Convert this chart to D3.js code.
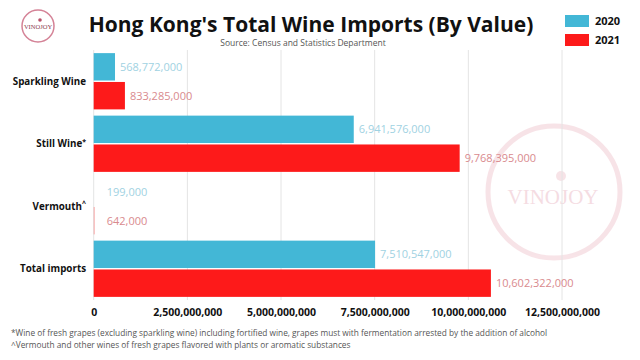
<!DOCTYPE html>
<html><head><meta charset="utf-8">
<script src="https://cdn.jsdelivr.net/npm/d3@7"></script>
<style>body{margin:0;background:#fff}svg{display:block;font-family:'Open Sans',sans-serif}</style>
</head><body><svg id="c" width="640" height="360"></svg>
<script>
const categories = ["Sparkling Wine", "Still Wine", "Vermouth", "Total imports"];
const marks = ["", "*", "^", ""];
const years = ["2020", "2021"];
const values2020 = [568772000, 6941576000, 199000, 7510547000];
const values2021 = [833285000, 9768395000, 642000, 10602322000];
const ticks = [0, 2500000000, 5000000000, 7500000000, 10000000000, 12500000000];
const footnotes = [
  "*Wine of fresh grapes (excluding sparkling wine) including fortified wine, grapes must with fermentation arrested by the addition of alcohol",
  "^Vermouth and other wines of fresh grapes flavored with plants or aromatic substances"
];
const colors = ["#43b7d6", "#fd1a1a"];
const labelColors = ["#9fd2e2", "#d98a8e"];

const svg = d3.select("#c");
const x = d3.scaleLinear().domain([0, 12500000000]).range([93.7, 562]);
const y = d3.scaleBand().domain(categories).range([50, 300]).paddingInner(0.1).paddingOuter(0.05);
const y1 = d3.scaleBand().domain(years).range([0, y.bandwidth()]).paddingInner(0.05);

// watermark
const wm = svg.append("g").attr("opacity", 0.45);
wm.append("circle").attr("cx", 554).attr("cy", 192).attr("r", 66).attr("fill", "none").attr("stroke", "#efc3cc").attr("stroke-width", 5);
wm.append("circle").attr("cx", 561).attr("cy", 176).attr("r", 5).attr("fill", "#efc3cc");
wm.append("text").attr("x", 553).attr("y", 204).attr("text-anchor", "middle").attr("font-family", "'Liberation Serif', serif").attr("font-size", 21).attr("fill", "#e9b3bf").text("VINOJOY");

// grid
svg.append("g").selectAll("line").data(ticks).join("line")
  .attr("x1", d => x(d)).attr("x2", d => x(d)).attr("y1", 50).attr("y2", 300)
  .attr("stroke", "#e4e4e4").attr("stroke-width", 1);

// bars
const series = [values2020, values2021];
const g = svg.append("g");
years.forEach((yr, i) => {
  g.selectAll(".b" + i).data(categories).join("rect")
    .attr("x", x(0))
    .attr("y", (c) => y(c) + y1(yr))
    .attr("width", (c, j) => Math.max(x(series[i][j]) - x(0), i === 1 ? 1 : 0))
    .attr("height", y1.bandwidth())
    .attr("fill", colors[i])
    .attr("opacity", (c, j) => series[i][j] < 1e7 && i === 1 ? 0.35 : 1);
  g.selectAll(".l" + i).data(categories).join("text")
    .attr("x", (c, j) => x(series[i][j]) + 5 + (series[i][j] < 1e7 ? 8 : 0))
    .attr("y", c => y(c) + y1(yr) + y1.bandwidth() / 2)
    .attr("dy", "0.35em")
    .attr("font-size", 11).attr("fill", labelColors[i])
    .text((c, j) => d3.format(",")(series[i][j]));
});

// category labels
const cl = svg.append("g").selectAll("text").data(categories).join("text")
  .attr("x", 86).attr("y", c => y(c) + y.bandwidth() / 2).attr("dy", "0.35em")
  .attr("text-anchor", "end").attr("font-size", 9.8).attr("font-weight", "bold").attr("fill", "#111");
cl.append("tspan").text(c => c);
cl.append("tspan").attr("dy", "-0.5em").attr("font-size", 7).text((c, i) => marks[i]);

// x axis
const ax = svg.append("g").attr("transform", "translate(0,300)")
  .call(d3.axisBottom(x).tickValues(ticks).tickFormat(d3.format(",")).tickSize(0).tickPadding(9));
ax.select(".domain").remove();
ax.selectAll("text").attr("font-family", "'Open Sans',sans-serif").attr("font-size", 10.5).attr("font-weight", "bold").attr("fill", "#111");

// title
svg.append("text").attr("x", 311).attr("y", 32).attr("text-anchor", "middle")
  .attr("font-size", 21).attr("font-weight", "bold").attr("fill", "#111").text("Hong Kong's Total Wine Imports (By Value)");
svg.append("text").attr("x", 303).attr("y", 46).attr("text-anchor", "middle")
  .attr("font-size", 8.5).attr("fill", "#555").text("Source: Census and Statistics Department");

// legend
const lg = svg.append("g");
years.forEach((yr, i) => {
  lg.append("rect").attr("x", 565).attr("y", 15 + i * 19).attr("width", 24).attr("height", 12).attr("fill", colors[i]);
  lg.append("text").attr("x", 595).attr("y", 21 + i * 19).attr("dy", "0.35em").attr("font-size", 11).attr("font-weight", "bold").attr("fill", "#111").text(yr);
});

// footnotes
svg.append("g").selectAll("text").data(footnotes).join("text")
  .attr("x", 11).attr("y", (d, i) => 336 + i * 12).attr("font-size", 8.3).attr("fill", "#555").text(d => d);

// logo
const lo = svg.append("g");
lo.append("circle").attr("cx", 38).attr("cy", 26).attr("r", 16).attr("fill", "none").attr("stroke", "#c9637c").attr("stroke-width", 1.5).attr("opacity", 0.8);
lo.append("circle").attr("cx", 40).attr("cy", 20).attr("r", 1.8).attr("fill", "#b8506a");
lo.append("text").attr("x", 38).attr("y", 29).attr("text-anchor", "middle").attr("font-family", "'Liberation Serif', serif").attr("font-size", 6.5).attr("fill", "#8b3a4f").text("VINOJOY");
</script></body></html>
